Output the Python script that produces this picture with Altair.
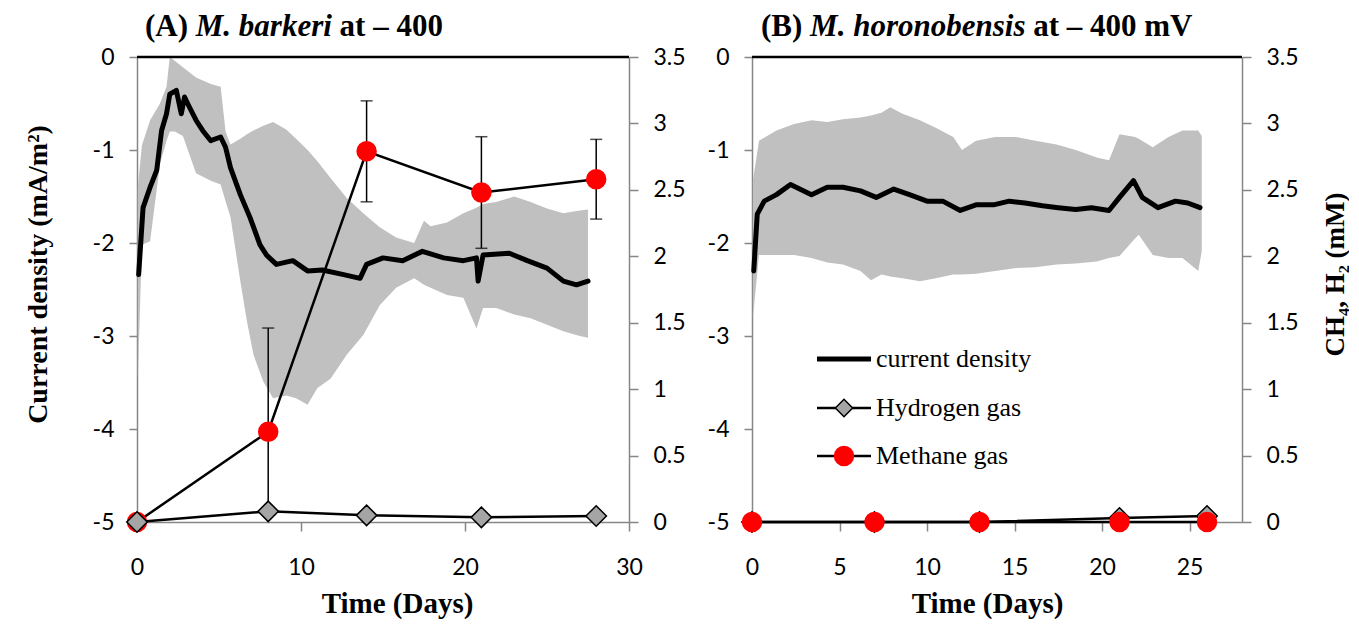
import altair as alt
import pandas as pd

# ---------------- Panel A : M. barkeri ----------------
a_cur_day = [0.1, 0.37, 0.8, 1.2, 1.5, 1.8, 2.0, 2.4, 2.7, 2.9, 3.2, 3.6, 4.0, 4.5, 5.1, 5.4, 5.7,
             6.3, 6.9, 7.5, 7.9, 8.5, 9.5, 10.4, 11.3, 12.6, 13.6, 14.0, 15.0, 16.2, 17.4, 18.7,
             19.9, 20.7, 20.8, 21.1, 22.7, 23.8, 25.0, 26.0, 26.8, 27.5]
a_cur_val = [-2.34, -1.62, -1.40, -1.22, -0.79, -0.61, -0.40, -0.36, -0.61, -0.43, -0.54, -0.68,
             -0.79, -0.90, -0.86, -0.97, -1.19, -1.48, -1.73, -2.02, -2.13, -2.23, -2.19, -2.30,
             -2.29, -2.34, -2.38, -2.23, -2.16, -2.19, -2.09, -2.16, -2.19, -2.16, -2.41, -2.13,
             -2.11, -2.19, -2.27, -2.41, -2.45, -2.41]

a_band_day = [0.05, 0.3, 0.8, 1.4, 1.8, 2.0, 2.3, 2.8, 3.6, 4.5, 5.1, 5.4, 5.7, 6.3, 6.7, 7.1,
              7.7, 8.3, 9.1, 9.7, 10.4, 11.0, 11.8, 12.8, 13.8, 14.8, 15.8, 16.9, 17.5, 17.9,
              18.9, 19.9, 20.7, 21.1, 21.9, 23.0, 24.0, 25.0, 26.0, 27.0, 27.5]
a_band_hi = [-1.40, -0.95, -0.68, -0.50, -0.32, 0.0, -0.04, -0.11, -0.22, -0.29, -0.32, -0.80,
             -0.94, -0.88, -0.83, -0.79, -0.74, -0.70, -0.78, -0.88, -1.00, -1.12, -1.30, -1.52,
             -1.68, -1.83, -1.94, -2.00, -1.76, -1.82, -1.78, -1.68, -1.62, -1.58, -1.56, -1.50,
             -1.56, -1.63, -1.68, -1.65, -1.64]
a_band_lo = [-3.46, -2.02, -1.98, -1.15, -0.90, -0.80, -0.80, -0.85, -1.25, -1.33, -1.37, -1.55,
             -1.72, -2.41, -2.84, -3.20, -3.49, -3.67, -3.64, -3.67, -3.74, -3.56, -3.46, -3.20,
             -2.99, -2.67, -2.48, -2.38, -2.45, -2.48, -2.56, -2.59, -2.92, -2.70, -2.70, -2.77,
             -2.81, -2.88, -2.95, -3.00, -3.02]

a_gas_day = [0, 8, 14, 21, 28]
a_ch4 = [0, 0.68, 2.79, 2.48, 2.58]
a_ch4_err = [0, 0.78, 0.38, 0.42, 0.30]
a_h2 = [0, 0.08, 0.05, 0.035, 0.045]

# ---------------- Panel B : M. horonobensis ----------------
b_cur_day = [0.1, 0.3, 0.7, 1.4, 2.2, 3.4, 4.3, 5.2, 6.2, 7.1, 8.1, 9.0, 10.0, 10.9, 11.9, 12.8,
             13.8, 14.7, 15.6, 16.6, 17.5, 18.5, 19.4, 20.4, 21.0, 21.8, 22.3, 23.2, 24.2, 24.9,
             25.6]
b_cur_val = [-2.30, -1.69, -1.55, -1.48, -1.37, -1.48, -1.40, -1.40, -1.44, -1.51, -1.42, -1.48,
             -1.55, -1.55, -1.65, -1.59, -1.59, -1.55, -1.57, -1.60, -1.62, -1.64, -1.62, -1.65,
             -1.51, -1.33, -1.51, -1.62, -1.55, -1.57, -1.62]

b_band_day = [0.05, 0.4, 1.4, 2.4, 3.4, 4.3, 5.2, 6.2, 6.8, 7.4, 7.9, 8.6, 9.6, 10.5, 11.5, 12.0,
              12.8, 13.9, 15.1, 16.2, 17.4, 18.5, 19.7, 20.4, 21.0, 21.9, 22.1, 22.9, 23.8, 24.6,
              25.5, 25.7]
b_band_hi = [-1.33, -0.90, -0.79, -0.72, -0.68, -0.70, -0.67, -0.65, -0.63, -0.60, -0.54, -0.61,
             -0.68, -0.76, -0.86, -1.00, -0.90, -0.86, -0.86, -0.90, -0.94, -1.00, -1.08, -1.11,
             -0.83, -0.86, -0.88, -0.97, -0.86, -0.79, -0.79, -0.85]
b_band_lo = [-2.81, -2.13, -2.13, -2.13, -2.16, -2.21, -2.23, -2.30, -2.40, -2.34, -2.36, -2.38,
             -2.41, -2.38, -2.34, -2.34, -2.33, -2.30, -2.27, -2.26, -2.23, -2.22, -2.20, -2.16,
             -2.14, -1.95, -1.91, -2.13, -2.16, -2.16, -2.30, -2.09]

b_gas_day = [0, 7, 13, 21, 26]
b_ch4 = [0, 0, 0, 0, 0]
b_ch4_err = [0, 0, 0, 0, 0]
b_h2 = [0, 0, 0, 0.03, 0.045]

# ---------------- Text / ticks ----------------
title_a = ["(A)", "M. barkeri", "at – 400"]
title_b = ["(B)", "M. horonobensis", "at – 400 mV"]
legend_labels = ["current density", "Hydrogen gas", "Methane gas"]
left_ticks = [-5, -4, -3, -2, -1, 0]
right_ticks = [0, 0.5, 1, 1.5, 2, 2.5, 3, 3.5]
a_xticks = [0, 10, 20, 30]
b_xticks = [0, 5, 10, 15, 20, 25]

GREY_AXIS = "#868686"
BAND = "#C0C0C0"
RED = "#FF0000"
DIAMOND = "#A5A5A5"
SERIF = "Liberation Serif"
SANS = "Lato"
H = 465


def one(text):
    return pd.DataFrame({"t": [text]})


def panel(cur_day, cur_val, band_day, band_hi, band_lo, gas_day, ch4, ch4_err, h2,
          xdomain, xticks, width, title_parts, title_xs, left_title, right_title,
          xtitle_x, methane_on_top, legend):
    xaxis = alt.Axis(orient="bottom", values=xticks, labelExpr="'' + datum.value",
                     tickSize=9, tickColor=GREY_AXIS, tickWidth=1.5, labelFlush=False,
                     domainColor=GREY_AXIS, domainWidth=1.5, labelPadding=25,
                     labelFont=SANS, labelFontSize=23, labelColor="black",
                     titleFont=SERIF, titleFontSize=29, titleFontWeight="bold",
                     titleColor="black", titleX=xtitle_x, titleY=90,
                     titleBaseline="alphabetic", grid=False)
    xs = alt.Scale(domain=xdomain, nice=False, zero=False)

    def X():
        return alt.X("day:Q", scale=xs, axis=xaxis, title="Time (Days)")

    laxis = alt.Axis(orient="left", values=left_ticks, labelExpr="'' + datum.value",
                     tickSize=8, tickColor=GREY_AXIS, tickWidth=1.5, labelFlush=False,
                     domainColor=GREY_AXIS, domainWidth=1.5, labelPadding=15,
                     labelFont=SANS, labelFontSize=23, labelColor="black",
                     titleFont=SERIF, titleFontSize=28, titleFontWeight="bold",
                     titleColor="black", titlePadding=40, titleY=217, grid=False)
    ls = alt.Scale(domain=[-5, 0], nice=False, zero=False)

    raxis = alt.Axis(orient="right", values=right_ticks, labelExpr="'' + datum.value",
                     tickSize=9, tickColor=GREY_AXIS, tickWidth=1.5, labelFlush=False,
                     domainColor=GREY_AXIS, domainWidth=1.5, labelPadding=15,
                     labelFont=SANS, labelFontSize=23, labelColor="black",
                     titleFont=SERIF, titleFontSize=27, titleFontWeight="bold",
                     titleColor="black", titlePadding=24, titleAngle=270,
                     titleBaseline="top", titleY=217, grid=False)
    rs = alt.Scale(domain=[0, 3.5], nice=False, zero=False)

    band_df = pd.DataFrame({"day": band_day, "hi": band_hi, "lo": band_lo})
    cur_df = pd.DataFrame({"day": cur_day, "v": cur_val})
    gas_df = pd.DataFrame({"day": gas_day, "ch4": ch4, "h2": h2,
                           "lo": [c - e for c, e in zip(ch4, ch4_err)],
                           "hi": [c + e for c, e in zip(ch4, ch4_err)]})
    err_df = gas_df[[e > 0 for e in ch4_err]]

    band = alt.Chart(band_df).mark_area(color=BAND, opacity=1, interpolate="linear").encode(
        x=X(), y=alt.Y("lo:Q", scale=ls, axis=laxis, title=left_title), y2="hi:Q")
    cur = alt.Chart(cur_df).mark_line(color="black", strokeWidth=5, strokeJoin="round",
                                      strokeCap="round").encode(
        x=X(), y=alt.Y("v:Q", scale=ls, axis=laxis, title=left_title))
    top_line = alt.Chart(one("")).mark_rule(color="black", strokeWidth=2.5).encode(
        x=alt.value(0), x2=alt.value(width), y=alt.value(0))

    tlayers = []
    for txt, tx, style in zip(title_parts, title_xs, ["normal", "italic", "normal"]):
        tlayers.append(alt.Chart(one(txt)).mark_text(
            align="left", baseline="alphabetic", font=SERIF, fontSize=31,
            fontWeight="bold", fontStyle=style, color="black").encode(
            x=alt.value(tx), y=alt.value(-21), text="t:N"))

    left = alt.layer(band, cur, top_line, *tlayers)

    def Yr(field):
        return alt.Y(f"{field}:Q", scale=rs, axis=raxis, title=right_title)

    ch4_line = alt.Chart(gas_df).mark_line(color="black", strokeWidth=2.5).encode(
        x=X(), y=Yr("ch4"))
    h2_line = alt.Chart(gas_df).mark_line(color="black", strokeWidth=2.5).encode(
        x=X(), y=Yr("h2"))
    err_rule = alt.Chart(err_df).mark_rule(color="black", strokeWidth=1.5, clip=True).encode(
        x=X(), y=Yr("lo"), y2="hi:Q")
    cap_hi = alt.Chart(err_df).mark_tick(color="black", thickness=1.5, size=12,
                                         orient="horizontal", clip=True).encode(
        x=X(), y=Yr("hi"))
    cap_lo = alt.Chart(err_df).mark_tick(color="black", thickness=1.5, size=12,
                                         orient="horizontal", clip=True).encode(
        x=X(), y=Yr("lo"))
    ch4_pts = alt.Chart(gas_df).mark_circle(color=RED, size=420, opacity=1).encode(
        x=X(), y=Yr("ch4"))
    h2_pts = alt.Chart(gas_df).mark_point(shape="diamond", filled=True, fill=DIAMOND,
                                          stroke="black", strokeWidth=1.5, size=420,
                                          opacity=1).encode(x=X(), y=Yr("h2"))
    if methane_on_top:
        rlist = [h2_line, ch4_line, h2_pts, err_rule, cap_hi, cap_lo, ch4_pts]
    else:
        rlist = [ch4_line, err_rule, cap_hi, cap_lo, ch4_pts, h2_line, h2_pts]

    if legend:
        rows = [302, 351, 399]
        lx0, lx1, lmid, ltx = 65, 119, 92, 124
        lg = [
            alt.Chart(one("")).mark_rule(color="black", strokeWidth=5).encode(
                x=alt.value(lx0), x2=alt.value(lx1), y=alt.value(rows[0])),
            alt.Chart(one("")).mark_rule(color="black", strokeWidth=2.5).encode(
                x=alt.value(lx0), x2=alt.value(lx1), y=alt.value(rows[1])),
            alt.Chart(one("")).mark_point(shape="diamond", filled=True, fill=DIAMOND,
                                          stroke="black", strokeWidth=1.5, size=300,
                                          opacity=1).encode(
                x=alt.value(lmid), y=alt.value(rows[1])),
            alt.Chart(one("")).mark_rule(color="black", strokeWidth=2.5).encode(
                x=alt.value(lx0), x2=alt.value(lx1), y=alt.value(rows[2])),
            alt.Chart(one("")).mark_circle(color=RED, size=420, opacity=1).encode(
                x=alt.value(lmid), y=alt.value(rows[2])),
        ]
        for lab, ry in zip(legend_labels, rows):
            lg.append(alt.Chart(one(lab)).mark_text(
                align="left", baseline="middle", font=SERIF, fontSize=26,
                color="black").encode(x=alt.value(ltx), y=alt.value(ry), text="t:N"))
        rlist = rlist + lg

    right = alt.layer(*rlist)
    return alt.layer(left, right).resolve_scale(y="independent").properties(
        width=width, height=H)


pa = panel(a_cur_day, a_cur_val, a_band_day, a_band_hi, a_band_lo, a_gas_day, a_ch4,
           a_ch4_err, a_h2, [0, 30], a_xticks, 492, title_a, [8, 58.8, 202.6],
           "Current density (mA/m²)", None, 260, False, False)
pb = panel(b_cur_day, b_cur_val, b_band_day, b_band_hi, b_band_lo, b_gas_day, b_ch4,
           b_ch4_err, b_h2, [0, 28], b_xticks, 490, title_b, [9, 58.1, 281.2],
           None, "CH₄, H₂ (mM)", 235, True, True)

chart = alt.hconcat(pa, pb, spacing=20).properties(
    padding={"left": 15, "top": 2, "right": 0, "bottom": 0}
).configure_view(stroke=None).configure(background="white")

chart.save("out.html", embed_options={"renderer": "svg", "actions": False})
